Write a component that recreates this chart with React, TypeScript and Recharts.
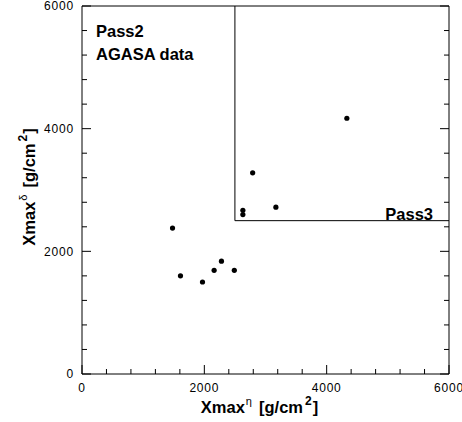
import React from 'react';
import { ScatterChart, Scatter, XAxis, YAxis, ReferenceLine } from 'recharts';

// AGASA events, Xmax from eta vs Xmax from delta
const xmaxEta = [1480, 1610, 1970, 2160, 2280, 2490, 2630, 2630, 2790, 3170, 4330];
const xmaxDelta = [2380, 1600, 1500, 1690, 1840, 1690, 2670, 2600, 3280, 2720, 4170];

const majorTicks = [0, 2000, 4000, 6000];
const allTicks = [0, 400, 800, 1200, 1600, 2000, 2400, 2800, 3200, 3600, 4000, 4400, 4800, 5200, 5600, 6000];

const axisMax = 6000;
const pass3Cut = 2500;

const data = xmaxEta.map((x, i) => ({ x, y: xmaxDelta[i] }));

const font = 'Liberation Sans, Arial, Helvetica, sans-serif';
const labelStyle = { fontSize: 12, fill: '#000', fontFamily: font, letterSpacing: 0.8 };

const tickLen = (v: number) => (majorTicks.includes(v) ? 9 : 5);

// ticks point into the plot, labels only on the major ones
const BottomTick = ({ x, y, payload }: any) => (
    <g>
        <line x1={x} y1={y} x2={x} y2={y - tickLen(payload.value)} stroke="#000" />
        {majorTicks.includes(payload.value) && (
            <text x={x} y={y + 18} textAnchor="middle" style={labelStyle}>{payload.value}</text>
        )}
    </g>
);
const LeftTick = ({ x, y, payload }: any) => (
    <g>
        <line x1={x} y1={y} x2={x + tickLen(payload.value)} y2={y} stroke="#000" />
        {majorTicks.includes(payload.value) && (
            <text x={x - 8} y={y + 4.3} textAnchor="end" style={labelStyle}>{payload.value}</text>
        )}
    </g>
);
const TopTick = ({ x, y, payload }: any) => (
    <line x1={x} y1={y} x2={x} y2={y + tickLen(payload.value)} stroke="#000" />
);
const RightTick = ({ x, y, payload }: any) => (
    <line x1={x} y1={y} x2={x - tickLen(payload.value)} y2={y} stroke="#000" />
);

const Dot = (p: any) => <circle cx={p.cx} cy={p.cy} r={2.6} fill="#000" />;

const App = () => {
    const common = {
        type: 'number' as const,
        domain: [0, axisMax],
        allowDataOverflow: true,
        interval: 0 as const,
        ticks: allTicks,
        stroke: '#000',
        tickSize: 0,
        tickMargin: 0,
        tickLine: false,
    };

    return (
        <div style={{ position: 'absolute', left: 0, top: 0, width: 462, height: 422 }}>
            <ScatterChart width={462} height={422} margin={{ top: 0, right: 0, bottom: 18, left: 22 }}>
                <XAxis xAxisId="x" dataKey="x" {...common} height={30} tick={BottomTick} />
                <XAxis xAxisId="xt" orientation="top" {...common} height={6} tick={TopTick} />
                <YAxis yAxisId="y" dataKey="y" {...common} width={60} tick={LeftTick} />
                <YAxis yAxisId="yr" orientation="right" {...common} width={13} tick={RightTick} />

                <ReferenceLine xAxisId="x" yAxisId="y" stroke="#000" strokeWidth={1}
                    segment={[{ x: pass3Cut, y: pass3Cut }, { x: pass3Cut, y: axisMax }]} />
                <ReferenceLine xAxisId="x" yAxisId="y" stroke="#000" strokeWidth={1}
                    segment={[{ x: pass3Cut, y: pass3Cut }, { x: axisMax, y: pass3Cut }]} />

                <Scatter xAxisId="x" yAxisId="y" data={data} shape={Dot} isAnimationActive={false} />
            </ScatterChart>

            <svg width={462} height={422} style={{ position: 'absolute', left: 0, top: 0, pointerEvents: 'none' }}
                fontFamily={font} fontWeight="bold" fill="#000">
                <text x={96} y={37} fontSize={16.5}>Pass2</text>
                <text x={96} y={59.5} fontSize={16.5}>AGASA data</text>
                <text x={433} y={220} fontSize={16.5} textAnchor="end">Pass3</text>

                <text x={259.5} y={413} fontSize={16.5} textAnchor="middle">
                    Xmax
                    <tspan fontSize={11} fontWeight="normal" dx={1} dy={-8}>η</tspan>
                    <tspan dx={7} dy={8}>[g/cm</tspan>
                    <tspan fontSize={12} dx={2} dy={-8}>2</tspan>
                    <tspan dx={1} dy={8}>]</tspan>
                </text>

                <text x={35} y={187} fontSize={16.5} textAnchor="middle" transform="rotate(-90 35 187)">
                    Xmax
                    <tspan fontSize={11} fontWeight="normal" dx={1} dy={-8}>δ</tspan>
                    <tspan dx={7} dy={8}>[g/cm</tspan>
                    <tspan fontSize={12} dx={2} dy={-8}>2</tspan>
                    <tspan dx={1} dy={8}>]</tspan>
                </text>
            </svg>
        </div>
    );
};

export default App;
